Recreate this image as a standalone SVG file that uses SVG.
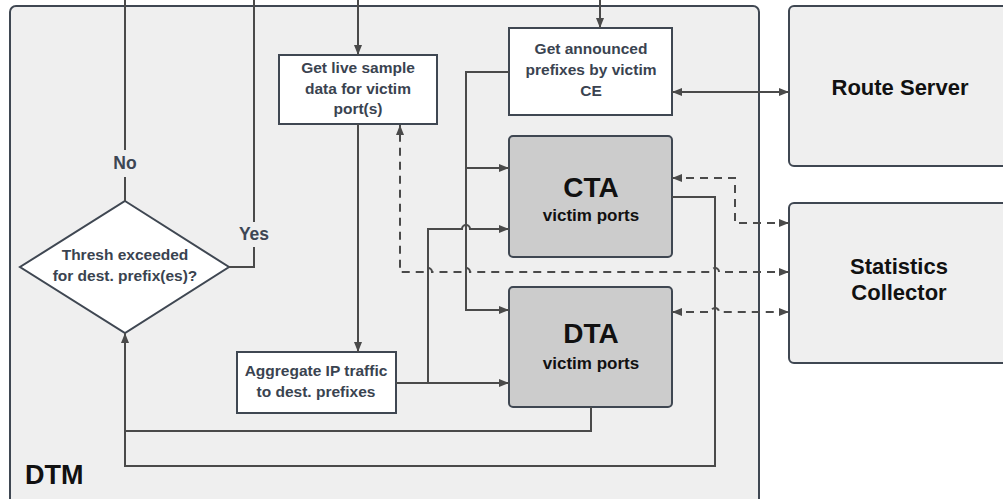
<svg xmlns="http://www.w3.org/2000/svg" width="1003" height="499" viewBox="0 0 1003 499">
  <defs>
    <marker id="arrow" viewBox="0 0 10 10" refX="10" refY="5" markerWidth="10" markerHeight="10" markerUnits="userSpaceOnUse" orient="auto-start-reverse">
      <path d="M0,1 L10,5 L0,9 z" fill="#4a4a4a"/>
    </marker>
    <style>
      .frame { fill: #efefef; stroke: #3f4752; stroke-width: 2; }
      .step { fill: #ffffff; stroke: #3f4752; stroke-width: 2; }
      .agent { fill: #cccccc; stroke: #3f4752; stroke-width: 2; }
      .wire { fill: none; stroke: #4a4a4a; stroke-width: 2; }
      .dash { fill: none; stroke: #4a4a4a; stroke-width: 2; stroke-dasharray: 8 6; }
      .steptext { font-family: "Liberation Sans", Arial, sans-serif; font-weight: bold; font-size: 15.5px; fill: #3a4350; text-anchor: middle; }
      .label { font-family: "Liberation Sans", Arial, sans-serif; font-weight: bold; font-size: 17.5px; fill: #3d4654; text-anchor: middle; }
      .big { font-family: "Liberation Sans", Arial, sans-serif; font-weight: bold; fill: #111111; text-anchor: middle; }
    </style>
  </defs>

  <!-- external systems -->
  <g id="route-server">
    <rect class="frame" x="789" y="6" width="230" height="160" rx="5"/>
    <text class="big" x="900" y="95" font-size="22">Route Server</text>
  </g>
  <g id="statistics-collector">
    <rect class="frame" x="789" y="203" width="230" height="160" rx="5"/>
    <text class="big" x="899" y="274" font-size="22">Statistics</text>
    <text class="big" x="899" y="300" font-size="22">Collector</text>
  </g>

  <!-- DTM container -->
  <g id="dtm">
    <rect class="frame" x="10" y="6" width="749" height="500" rx="6"/>
    <text class="big" x="25" y="484" font-size="27" style="text-anchor:start">DTM</text>
  </g>

  <!-- process steps -->
  <g id="get-live-sample">
    <rect class="step" x="279" y="55" width="158" height="69"/>
    <text class="steptext" x="358" y="73">Get live sample</text>
    <text class="steptext" x="358" y="94">data for victim</text>
    <text class="steptext" x="358" y="114">port(s)</text>
  </g>
  <g id="get-announced">
    <rect class="step" x="509" y="28" width="163" height="87"/>
    <text class="steptext" x="591" y="54">Get announced</text>
    <text class="steptext" x="591" y="75">prefixes by victim</text>
    <text class="steptext" x="591" y="96">CE</text>
  </g>
  <g id="aggregate">
    <rect class="step" x="237" y="352" width="159" height="61"/>
    <text class="steptext" x="316" y="376">Aggregate IP traffic</text>
    <text class="steptext" x="316" y="397">to dest. prefixes</text>
  </g>
  <g id="threshold">
    <polygon class="step" points="125,201 229,267 125,333 20,267"/>
    <text class="steptext" x="125" y="260">Thresh exceeded</text>
    <text class="steptext" x="125" y="281">for dest. prefix(es)?</text>
  </g>
  <g id="cta">
    <rect class="agent" x="509" y="136" width="163" height="121" rx="4"/>
    <text class="big" x="591" y="197" font-size="28">CTA</text>
    <text class="big" x="591" y="221" font-size="17">victim ports</text>
  </g>
  <g id="dta">
    <rect class="agent" x="509" y="287" width="163" height="120" rx="4"/>
    <text class="big" x="591" y="343" font-size="28">DTA</text>
    <text class="big" x="591" y="369" font-size="17">victim ports</text>
  </g>

  <!-- connectors -->
  <g id="connectors">
    <!-- decision outcomes leaving the module -->
    <path class="wire" d="M125,201 V177"/>
    <path class="wire" d="M125,150 V0"/>
    <text class="label" x="125" y="169">No</text>
    <path class="wire" d="M229,267 H254 V247"/>
    <path class="wire" d="M254,222 V0"/>
    <text class="label" x="254" y="240">Yes</text>

    <!-- inputs from above -->
    <path class="wire" d="M358,0 V55" marker-end="url(#arrow)"/>
    <path class="wire" d="M600,0 V28" marker-end="url(#arrow)"/>

    <!-- sample data to aggregation -->
    <path class="wire" d="M358,124 V352" marker-end="url(#arrow)"/>

    <!-- announced prefixes to CTA and DTA -->
    <path class="wire" d="M509,72 H466 V310 H509" marker-end="url(#arrow)"/>
    <path class="wire" d="M466,168 H509" marker-end="url(#arrow)"/>

    <!-- aggregated traffic to DTA and CTA -->
    <path class="wire" d="M396,383 H509" marker-end="url(#arrow)"/>
    <path class="wire" d="M428,383 V229 H462 A4,4 0 0 1 470,229 H509" marker-end="url(#arrow)"/>

    <!-- route server exchange -->
    <path class="wire" d="M672,92 H789" marker-start="url(#arrow)" marker-end="url(#arrow)"/>

    <!-- results back to the decision -->
    <path class="wire" d="M672,197 H715 V466 H125 V333" marker-end="url(#arrow)"/>
    <path class="wire" d="M591,407 V431 H125"/>

    <!-- statistics exchange -->
    <path class="dash" d="M672,178 H735 V223 H789" marker-start="url(#arrow)" marker-end="url(#arrow)"/>
    <path class="dash" d="M789,272 H719 A4,4 0 0 0 711,272 H470 A4,4 0 0 0 462,272 H432 A4,4 0 0 0 424,272 H400 V125" marker-start="url(#arrow)" marker-end="url(#arrow)"/>
    <path class="dash" d="M672,312 H711 A4,4 0 0 1 719,312 H789" marker-start="url(#arrow)" marker-end="url(#arrow)"/>
  </g>
</svg>
